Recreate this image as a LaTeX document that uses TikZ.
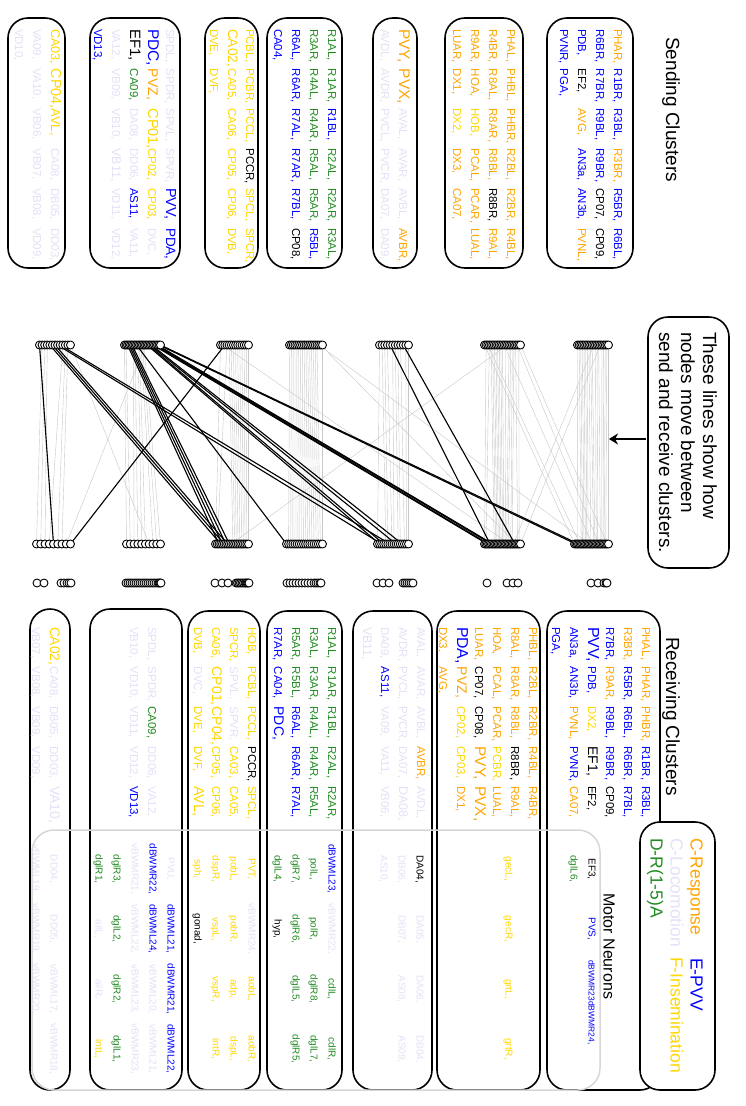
\documentclass[tikz,border=0pt]{standalone}
\usepackage{fontspec}
\setmainfont{Liberation Sans}
\usetikzlibrary{arrows.meta}
\definecolor{cO}{RGB}{255,165,0}
\definecolor{cB}{RGB}{0,0,255}
\definecolor{cL}{RGB}{226,226,248}
\definecolor{cY}{RGB}{255,215,0}
\definecolor{cG}{RGB}{34,139,34}
\definecolor{cK}{RGB}{0,0,0}
\definecolor{cGray}{RGB}{200,200,200}
\definecolor{cMN}{RGB}{215,215,215}
\tikzset{
 wd/.style={rotate=-90, anchor=base west, inner sep=0pt, outer sep=0pt},
 mn/.style={rotate=-90, anchor=base, inner sep=0pt, outer sep=0pt, font=\fontsize{10}{10}\selectfont},
 bx/.style={draw=black, line width=1.6pt, rounded corners=20pt},
 mnbox/.style={draw=cMN, line width=1.5pt, rounded corners=22pt},
 gl/.style={draw=cGray, line width=0.4pt},
 bl/.style={draw=black, line width=1.1pt},
 dt/.style={draw=black, fill=white, line width=0.9pt},
 ttl/.style={rotate=-90, anchor=base west, inner sep=0pt, font=\fontsize{19}{19}\selectfont},
 leg/.style={rotate=-90, anchor=base west, inner sep=0pt, font=\fontsize{17.5}{17.5}\selectfont},
}
% grid of words: #1 id, #2 first baseline x, #3 columns, #4 first column y, #5 list
\newcommand\gridtext[5]{%
 \foreach \gW/\gC/\gS [count=\gI from 0] in {#5} {%
   \pgfmathtruncatemacro\gRow{\gI/#3}%
   \pgfmathtruncatemacro\gCol{mod(\gI,#3)}%
   \node[wd, text=\gC, font=\fontsize{\gS}{\gS}\selectfont] (#1-\gI) at ({#2-\gRow*18},{#4+\gCol*39.8}) {\gW,};
 }}
% motor neuron row: #1 id, #2 baseline x, #3 list
\newcommand\mrow[3]{%
 \foreach \gW/\gC [count=\gI from 0] in {#3} {%
   \node[mn, text=\gC] (#1-\gI) at (#2,{869+60*\gI}) {\gW,};
 }}
% dot coordinates: #1 prefix, #2 y, #3 xa, #4 xb, #5 n, #6 list
\newcommand\dotrow[6]{%
 \foreach \gN [count=\gI from 0] in #6 {%
   \coordinate (#1-\gN) at ({#3+(#4-#3)*\gI/(#5-1)},#2);
 }}
\newcommand\drawdots[2]{\foreach \gN in #2 {\draw[dt] (#1-\gN) circle (4pt);}}
\newcommand\linksgray[1]{\foreach \gN in #1 {\draw[gl] (s-\gN) -- (r-\gN);}}

\def\Tone{PHAR,R1BR,R3BL,R3BR,R5BR,R6BL,R6BR,R7BR,R9BL,R9BR,CP07,CP09,PDB,EF2,AVG,AN3a,AN3b,PVNL,PVNR,PGA}
\def\Ttwo{PHAL,PHBL,PHBR,R2BL,R2BR,R4BL,R4BR,R8AL,R8AR,R8BL,R8BR,R9AL,R9AR,HOA,HOB,PCAL,PCAR,LUAL,LUAR,DX1,DX2,DX3,CA07}
\def\Tthree{AVAL,AVAR,AVBL,AVBR,PVY,AVDL,AVDR,PVCL,PVCR,PVX,DA07,DA09}
\def\Tfour{R1AL,R1AR,R1BL,R2AL,R2AR,R3AL,R3AR,R4AL,R4AR,R5AL,R5AR,R5BL,R6AL,R6AR,R7AL,R7AR,R7BL,CP08,CA04}
\def\Tfive{PCBL,PCBR,CA02,PCCL,PCCR,SPCL,SPCR,CA05,CA06,CP05,CP06,DVB,DVE,DVF}
\def\Tsix{SPDL,SPDR,SPVL,SPVR,CP01,DVC,CA09,DD06,PDC,VA12,VB10,VD11,VD12,VD13,VB09,DA08,AS11,VA11,VB11,PDA,PVZ,CP02,CP03,PVV,EF1}
\def\Tseven{CA08,DB05,DD03,VA10,CA03,CP04,AVL,VA09,VB06,VB07,VB08,VD09,VD10}
\def\Bone{PHAL,PVV,PHAR,EF1,PHBR,R1BR,R3BL,R3BR,R5BR,R6BL,R6BR,R7BL,R7BR,R9AR,R9BL,R9BR,CP09,PDB,DX2,EF2,AN3a,AN3b,PVNL,PVNR,CA07,PGA}
\def\Btwo{PHBL,R2BL,PDA,PVZ,PVY,CP02,CP03,R2BR,R4BL,R4BR,R8AL,R8AR,R8BL,R8BR,R9AL,HOA,PCAL,PCAR,PCBR,LUAL,LUAR,CP07,PVX,CP08,DX1,DX3,AVG}
\def\Bthree{AVAL,DA08,VA09,AS11,AVAR,AVBL,VB06,AVBR,AVDL,VA11,AVDR,PVCL,VB11,PVCR,DA07,DA09}
\def\Bfour{PDC,R1AL,R1AR,R1BL,R2AL,R2AR,R3AL,R3AR,R4AL,R4AR,R5AL,R5AR,R5BL,R6AL,R6AR,R7AL,R7AR,CA04}
\def\Bfive{PCBL,PCCL,SPVL,CA03,SPVR,CP04,CP01,AVL,DVC,HOB,PCCR,SPCL,SPCR,CA05,CA06,CP05,CP06,DVB,DVE,DVF}
\def\Bsix{SPDL,SPDR,CA09,DD06,VA12,VB10,VD10,VD11,VD12,VD13}
\def\Bseven{DB05,DD03,VA10,VB07,CA08,VB08,VD09,VB09,CA02}
\def\Movers{PVY,PVX,CA02,CA08,SPVL,SPVR,PVV,PDA,PDC,PVZ,CP01,CP02,CP03,DVC,EF1,DA08,AS11,VA11,VB11,CA03,CP04,AVL,VA09,VB06}

\begin{document}
\begin{tikzpicture}[x=1pt,y=-1pt]
\useasboundingbox (0,0) rectangle (745,1106);
\fill[white] (0,0) rectangle (745,1106);

% ---------- titles ----------
\node[ttl] (tsend) at (666,37) {Sending Clusters};
\node[ttl] (trecv) at (666,637) {Receiving Clusters};

% ---------- sending boxes ----------
\draw[bx] (547,18) rectangle (633,268);
\draw[bx] (445,18) rectangle (523,268);
\draw[bx] (373,18) rectangle (417,268);
\draw[bx] (267,18) rectangle (342,268);
\draw[bx] (205,18) rectangle (258,268);
\draw[bx] (90,18) rectangle (180,268);
\draw[bx] (8,18) rectangle (65,268);

\gridtext{s1}{614}{6}{29}{PHAR/cO/11.5,R1BR/cB/11.5,R3BL/cB/11.5,R3BR/cO/11.5,R5BR/cB/11.5,R6BL/cB/11.5,
R6BR/cB/11.5,R7BR/cB/11.5,R9BL/cB/11.5,R9BR/cB/11.5,CP07/cK/11.5,CP09/cK/11.5,
PDB/cB/11.5,EF2/cK/11.5,AVG/cO/11.5,AN3a/cB/11.5,AN3b/cB/11.5,PVNL/cO/11.5,
PVNR/cB/11.5,PGA/cB/11.5}
\gridtext{s2}{507}{6}{29}{PHAL/cO/11.5,PHBL/cO/11.5,PHBR/cO/11.5,R2BL/cO/11.5,R2BR/cO/11.5,R4BL/cO/11.5,
R4BR/cO/11.5,R8AL/cO/11.5,R8AR/cO/11.5,R8BL/cO/11.5,R8BR/cK/11.5,R9AL/cO/11.5,
R9AR/cO/11.5,HOA/cO/11.5,HOB/cY/11.5,PCAL/cO/11.5,PCAR/cO/11.5,LUAL/cO/11.5,
LUAR/cO/11.5,DX1/cO/11.5,DX2/cY/11.5,DX3/cO/11.5,CA07/cO/11.5}
\gridtext{s3}{399}{6}{29}{PVY/cO/15.5,PVX/cO/15.5,AVAL/cL/11.5,AVAR/cL/11.5,AVBL/cL/11.5,AVBR/cO/11.5,
AVDL/cL/11.5,AVDR/cL/11.5,PVCL/cL/11.5,PVCR/cL/11.5,DA07/cL/11.5,DA09/cL/11.5}
\gridtext{s4}{328}{6}{29}{R1AL/cG/11.5,R1AR/cG/11.5,R1BL/cB/11.5,R2AL/cG/11.5,R2AR/cG/11.5,R3AL/cG/11.5,
R3AR/cG/11.5,R4AL/cG/11.5,R4AR/cG/11.5,R5AL/cG/11.5,R5AR/cG/11.5,R5BL/cB/11.5,
R6AL/cB/11.5,R6AR/cB/11.5,R7AL/cB/11.5,R7AR/cB/11.5,R7BL/cB/11.5,CP08/cK/11.5,
CA04/cB/11.5}
\gridtext{s5}{246}{6}{29}{PCBL/cY/11.5,PCBR/cY/11.5,PCCL/cY/11.5,PCCR/cK/11.5,SPCL/cY/11.5,SPCR/cY/11.5,
CA02/cY/13.7,CA05/cY/11.5,CA06/cY/11.5,CP05/cY/11.5,CP06/cY/11.5,DVB/cY/11.5,
DVE/cY/11.5,DVF/cY/11.5}
\gridtext{s6}{166}{6}{29}{SPDL/cL/11.5,SPDR/cL/11.5,SPVL/cL/11.5,SPVR/cL/11.5,PVV/cB/14.5,PDA/cB/13.5,
PDC/cB/15.5,PVZ/cO/14,CP01/cY/14.5,CP02/cY/11.5,CP03/cY/11.5,DVC/cL/11.5,
EF1/cK/15,CA09/cG/11.5,DA08/cL/11.5,DD06/cL/11.5,AS11/cB/11.5,VA11/cL/11.5,
VA12/cL/11.5,VB09/cL/11.5,VB10/cL/11.5,VB11/cL/12.5,VD11/cL/11.5,VD12/cL/11.5,
VD13/cB/11.5}
\gridtext{s7}{51}{6}{29}{CA03/cY/12.6,CP04/cY/14.4,AVL/cY/13,CA08/cL/11.5,DB05/cL/11.5,DD03/cL/11.5,
VA09/cL/11.5,VA10/cL/11.5,VB06/cL/11.5,VB07/cL/11.5,VB08/cL/11.5,VD09/cL/11.5,
VD10/cL/11.5}

% ---------- dot coordinates ----------
\dotrow{s}{345}{577.5}{608.5}{20}{\Tone}
\dotrow{s}{345}{484.5}{520.5}{23}{\Ttwo}
\dotrow{s}{345}{379.5}{408.5}{12}{\Tthree}
\dotrow{s}{345}{289.5}{322.5}{19}{\Tfour}
\dotrow{s}{345}{220.5}{248.5}{14}{\Tfive}
\dotrow{s}{345}{124.5}{160.5}{25}{\Tsix}
\dotrow{s}{345}{39.5}{70.5}{13}{\Tseven}
\dotrow{r}{544}{574.5}{608.5}{26}{\Bone}
\dotrow{r}{544}{484.5}{520.5}{27}{\Btwo}
\dotrow{r}{544}{377.5}{408.5}{16}{\Bthree}
\dotrow{r}{544}{286.5}{322.5}{18}{\Bfour}
\dotrow{r}{544}{215.5}{248.5}{20}{\Bfive}
\dotrow{r}{544}{126.5}{160.5}{10}{\Bsix}
\dotrow{r}{544}{36.5}{70.5}{9}{\Bseven}

% ---------- connectors ----------
\linksgray{\Tone}\linksgray{\Ttwo}\linksgray{\Tthree}\linksgray{\Tfour}
\linksgray{\Tfive}\linksgray{\Tsix}\linksgray{\Tseven}
\foreach \gN in \Movers {\draw[bl] (s-\gN) -- (r-\gN);}

% ---------- dots ----------
\drawdots{s}{\Tone}\drawdots{s}{\Ttwo}\drawdots{s}{\Tthree}\drawdots{s}{\Tfour}
\drawdots{s}{\Tfive}\drawdots{s}{\Tsix}\drawdots{s}{\Tseven}
\drawdots{r}{\Bone}\drawdots{r}{\Btwo}\drawdots{r}{\Bthree}\drawdots{r}{\Bfour}
\drawdots{r}{\Bfive}\drawdots{r}{\Bsix}\drawdots{r}{\Bseven}
% motor neuron dots
\foreach \gX [count=\gI] in {591,598,604,606,607} {\coordinate (ma-\gI) at (\gX,583); \draw[dt] (ma-\gI) circle (4pt);}
\foreach \gX [count=\gI] in {487,507,513,518} {\coordinate (mb-\gI) at (\gX,583); \draw[dt] (mb-\gI) circle (4pt);}
\foreach \gX [count=\gI] in {377,383,389,403,405,407,409,411,413} {\coordinate (mc-\gI) at (\gX,583); \draw[dt] (mc-\gI) circle (4pt);}
\foreach \gX [count=\gI] in {287,290,293,296,299,302,305,308,311,314,316,318,320,321} {\coordinate (md-\gI) at (\gX,583); \draw[dt] (md-\gI) circle (4pt);}
\foreach \gX [count=\gI] in {215,222,228,236,237.5,239,240.5,242,243.5,245,246,247,248,249} {\coordinate (me-\gI) at (\gX,583); \draw[dt] (me-\gI) circle (4pt);}
\foreach \gX [count=\gI] in {126,128,130,132,134,136,138,140,142,144,146,148,150,152,154,156,158,159,160,161} {\coordinate (mf-\gI) at (\gX,583); \draw[dt] (mf-\gI) circle (4pt);}
\foreach \gX [count=\gI] in {37,44,61,64,67,69,71} {\coordinate (mg-\gI) at (\gX,583); \draw[dt] (mg-\gI) circle (4pt);}

% ---------- explanation box ----------
\draw[bx] (648,317) rectangle (729,568);
\node[ttl] (ex1) at (703,332) {These lines show how};
\node[ttl] (ex2) at (681,332) {nodes move between};
\node[ttl] (ex3) at (659,332) {send and receive clusters.};
\coordinate (arrtail) at (646,439);
\coordinate (arrtip) at (609,439);
\draw[line width=2pt, -{Stealth[length=9pt,width=11pt]}] (arrtail) -- (arrtip);

% ---------- receiving boxes ----------
\draw[bx] (547,611) rectangle (660,1090);
\draw[bx] (437,611) rectangle (540,1090);
\draw[bx] (353,611) rectangle (432,1090);
\draw[bx] (267,611) rectangle (342,1090);
\draw[bx] (188,611) rectangle (260,1090);
\draw[bx] (90,609) rectangle (182,1090);
\draw[bx] (30,609) rectangle (70,1090);

\gridtext{r1}{642}{5}{627}{PHAL/cO/11.5,PHAR/cO/11.5,PHBR/cO/11.5,R1BR/cB/11.5,R3BL/cB/11.5,
R3BR/cO/11.5,R5BR/cB/11.5,R6BL/cB/11.5,R6BR/cB/11.5,R7BL/cB/11.5,
R7BR/cB/11.5,R9AR/cO/11.5,R9BL/cB/11.5,R9BR/cB/11.5,CP09/cK/11.5,
PVV/cB/16,PDB/cB/11.5,DX2/cY/11.5,EF1/cK/14,EF2/cK/11.5,
AN3a/cB/11.5,AN3b/cB/11.5,PVNL/cO/11.5,PVNR/cB/11.5,CA07/cO/11.5,
PGA/cB/11.5}
\gridtext{r2}{529}{5}{627}{PHBL/cO/11.5,R2BL/cO/11.5,R2BR/cO/11.5,R4BL/cO/11.5,R4BR/cO/11.5,
R8AL/cO/11.5,R8AR/cO/11.5,R8BL/cO/11.5,R8BR/cK/11.5,R9AL/cO/11.5,
HOA/cO/11.5,PCAL/cO/11.5,PCAR/cO/11.5,PCBR/cY/11.5,LUAL/cO/11.5,
LUAR/cO/11.5,CP07/cK/11.5,CP08/cK/11.5,PVY/cO/15.5,PVX/cO/15.5,
PDA/cB/15.8,PVZ/cO/14,CP02/cY/11.5,CP03/cY/11.5,DX1/cO/11.5,
DX3/cO/11.5,AVG/cO/11.5}
\gridtext{r3}{417}{5}{627}{AVAL/cL/11.5,AVAR/cL/11.5,AVBL/cL/11.5,AVBR/cO/11.5,AVDL/cL/11.5,
AVDR/cL/11.5,PVCL/cL/11.5,PVCR/cL/11.5,DA07/cL/11.5,DA08/cL/12.5,
DA09/cL/11.5,AS11/cB/11.5,VA09/cL/11.5,VA11/cL/11.5,VB06/cL/11.5,
VB11/cL/12.5}
\gridtext{r4}{328}{5}{627}{R1AL/cG/11.5,R1AR/cG/11.5,R1BL/cG/11.5,R2AL/cG/11.5,R2AR/cG/11.5,
R3AL/cG/11.5,R3AR/cG/11.5,R4AL/cG/11.5,R4AR/cG/11.5,R5AL/cG/11.5,
R5AR/cG/11.5,R5BL/cG/11.5,R6AL/cB/11.5,R6AR/cB/11.5,R7AL/cB/11.5,
R7AR/cB/11.5,CA04/cB/11.5,PDC/cB/14}
\gridtext{r5}{248}{5}{627}{HOB/cY/11.5,PCBL/cY/11.5,PCCL/cY/11.5,PCCR/cK/11.5,SPCL/cY/11.5,
SPCR/cY/11.5,SPVL/cL/11.5,SPVR/cL/11.5,CA03/cY/11.5,CA05/cY/11.5,
CA06/cY/11.5,CP01/cY/14,CP04/cY/14,CP05/cY/11.5,CP06/cY/11.5,
DVB/cY/11.5,DVC/cL/11.5,DVE/cY/11.5,DVF/cY/11.5,AVL/cY/14.5}
\gridtext{r6}{148}{5}{627}{SPDL/cL/11.5,SPDR/cL/11.5,CA09/cG/11.5,DD06/cL/11.5,VA12/cL/11.5,
VB10/cL/11.5,VD10/cL/11.5,VD11/cL/11.5,VD12/cL/11.5,VD13/cB/11.5}
\gridtext{r7}{50}{5}{627}{CA02/cY/13.8,CA08/cL/11.5,DB05/cL/11.5,DD03/cL/11.5,VA10/cL/14,
VB07/cL/11.5,VB08/cL/11.5,VB09/cL/11.5,VD09/cL/11.5}

% ---------- motor neurons ----------
\draw[mnbox] (32,830) rectangle (600,1090);
\node[rotate=-90, anchor=base west, inner sep=0pt, font=\fontsize{16}{16}\selectfont] (tmot) at (603.5,893) {Motor Neurons};
\mrow{m1a}{588.6}{EF3/cK,PVS/cB}
\node[wd, text=cB, font=\fontsize{8.5}{8.5}\selectfont] (m1s) at (588.6,960) {dBWMR23dBWMR24,};
\mrow{m1b}{570.6}{dglL6/cG}
\mrow{m2a}{505.6}{gecL/cY,gecR/cY,grtL/cY,grtR/cY}
\mrow{m3a}{416.6}{DA04/cK,DA05/cL,DA06/cL,DB04/cL}
\mrow{m3b}{398.6}{DB06/cL,DB07/cL,AS08/cL,AS09/cL}
\mrow{m3c}{380.6}{AS10/cL}
\mrow{m4a}{328.6}{dBWML23/cB,vBWMR22/cL,cdlL/cG,cdlR/cG}
\mrow{m4b}{310.6}{polL/cG,polR/cG,dglR8/cG,dglL7/cG}
\mrow{m4c}{292.6}{dglR7/cG,dglR6/cG,dglL5/cG,dglR5/cG}
\mrow{m4d}{274.6}{dglL4/cG,hyp/cK}
\mrow{m5a}{248.6}{PVT/cY,vBWMR24/cL,aobL/cY,aobR/cY}
\mrow{m5b}{230.6}{pobL/cY,pobR/cY,adp/cY,dspL/cY}
\mrow{m5c}{212.6}{dspR/cY,vspL/cY,vspR/cY,intR/cY}
\mrow{m5d}{194.6}{sph/cY,gonad/cK}
\mrow{m6a}{167.6}{PVU/cL,dBWML21/cB,dBWMR21/cB,dBWML22/cB}
\mrow{m6b}{149.6}{dBWMR22/cB,dBWML24/cB,vBWML20/cL,vBWML21/cL}
\mrow{m6c}{131.6}{vBWMR21/cL,vBWML22/cL,vBWML23/cL,vBWMR23/cL}
\mrow{m6d}{113.6}{dglR3/cG,dglL2/cG,dglR2/cG,dglL1/cG}
\mrow{m6e}{95.6}{dglR1/cG,ailL/cL,ailR/cL,intL/cY}
\mrow{m7a}{50.6}{DD04/cL,DD05/cL,vBWML17/cL,vBWMR18/cL}
\mrow{m7b}{32.6}{vBWML19/cL,vBWMR19/cL,vBWMR20/cL}

% ---------- legend ----------
\draw[bx, fill=white] (640,822) rectangle (715,1090);
\node[leg, text=cO] (l1) at (690.5,838) {C-Response};
\node[leg, text=cB] (l2) at (690.5,958) {E-PVV};
\node[leg, text=cL] (l3) at (670.5,838) {C-Locomotion};
\node[leg, text=cY] (l4) at (670.5,957) {F-Insemination};
\node[leg, text=cG] (l5) at (650.5,838) {D-R(1-5)A};
\end{tikzpicture}
\end{document}
